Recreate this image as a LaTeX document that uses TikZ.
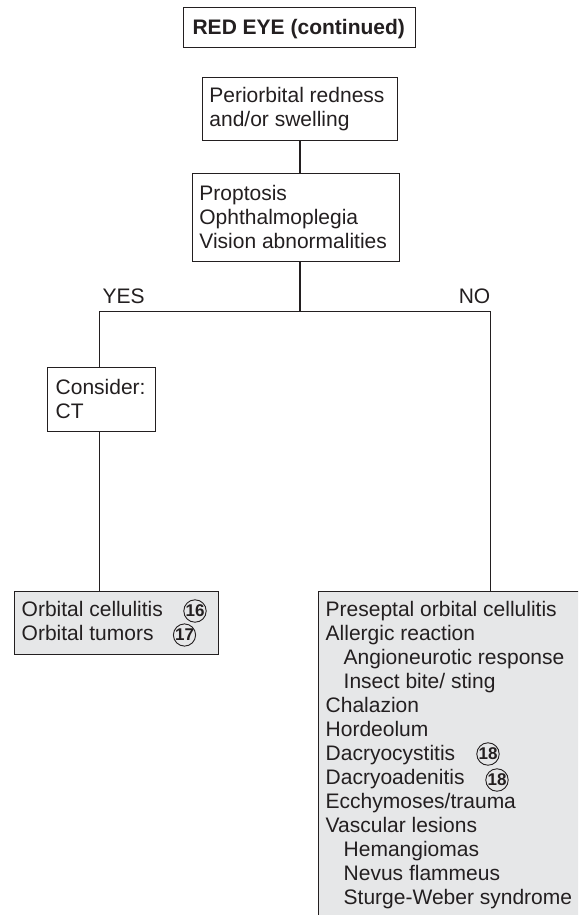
\documentclass[tikz,border=0pt]{standalone}
\usepackage{fontspec}
\setmainfont{Liberation Sans}
\definecolor{ink}{HTML}{231F20}
\definecolor{panel}{HTML}{E6E7E8}
\begin{document}
\begin{tikzpicture}[x=1pt,y=-1pt,
  box/.style={draw=ink, line width=1.2pt, anchor=north west, inner sep=0pt},
  txt/.style={anchor=north west, inner sep=0pt, align=left, text=ink, font=\fontsize{21}{24}\selectfont},
  lbl/.style={inner sep=0pt, text=ink, font=\fontsize{21}{24}\selectfont},
  conn/.style={draw=ink, line width=1.3pt},
  num/.style={circle, draw=ink, line width=0.9pt, minimum size=22pt, inner sep=0pt, text=ink, font=\fontsize{17}{17}\selectfont\bfseries}]
\useasboundingbox (0,0) rectangle (578,915);
\clip (0,0) rectangle (578,915);
\fill[white] (0,0) rectangle (578,915);

% title
\node[box, minimum width=232.5pt, minimum height=40pt] (title) at (182.5,7) {};
\node[lbl, anchor=base, font=\fontsize{21}{24}\selectfont\bfseries] (titletext) at (298.75,34.5) {RED EYE (continued)};

% boxes
\node[box, minimum width=195pt, minimum height=63pt] (peri) at (202,77) {};
\node[txt] (peritext) at (209.2,86) {\rule{0pt}{16pt}Periorbital redness\\and/or swelling};

\node[box, minimum width=207.3pt, minimum height=88pt] (prop) at (191.7,173) {};
\node[txt] (proptext) at (199.2,184) {\rule{0pt}{16pt}Proptosis\\Ophthalmoplegia\\Vision abnormalities};

\node[box, minimum width=108pt, minimum height=64pt] (cons) at (47,367) {};
\node[txt] (constext) at (55.5,378) {\rule{0pt}{16pt}Consider:\\CT};

\node[box, fill=panel, minimum width=204pt, minimum height=63pt] (orb) at (14,591) {};
\node[txt] (orbtext) at (21.5,600.7) {\rule{0pt}{16pt}Orbital cellulitis\\Orbital tumors};

\node[box, fill=panel, minimum width=300pt, minimum height=360pt] (nobox) at (318,591) {};
\node[txt] (notext) at (325.5,600.7) {\rule{0pt}{16pt}Preseptal orbital cellulitis\\
Allergic reaction\\
\hspace*{18pt}Angioneurotic response\\
\hspace*{18pt}Insect bite/ sting\\
Chalazion\\
Hordeolum\\
Dacryocystitis\\
Dacryoadenitis\\
Ecchymoses/trauma\\
Vascular lesions\\
\hspace*{18pt}Hemangiomas\\
\hspace*{18pt}Nevus flammeus\\
\hspace*{18pt}Sturge-Weber syndrome};

% circled reference numbers
\node[num] (n16) at (195,611) {16};
\node[num] (n17) at (184.5,635) {17};
\node[num] (n18a) at (488,754) {18};
\node[num] (n18b) at (497,780) {18};

% branch labels
\node[lbl, anchor=base west] (yes) at (102.5,303) {YES};
\node[lbl, anchor=base east] (no) at (490.5,303) {NO};

% connectors
\coordinate (j) at (300,311.7);
\coordinate (jl) at (99.3,311.7);
\coordinate (jr) at (490.5,311.7);
\draw[conn] (peri.south -| j) -- (prop.north -| j);
\draw[conn] (prop.south -| j) -- (j);
\draw[conn, line join=miter] (jl |- cons.north) -- (jl) -- (jr) -- (jr |- nobox.north);
\draw[conn] (jl |- cons.south) -- (jl |- orb.north);
\end{tikzpicture}
\end{document}
